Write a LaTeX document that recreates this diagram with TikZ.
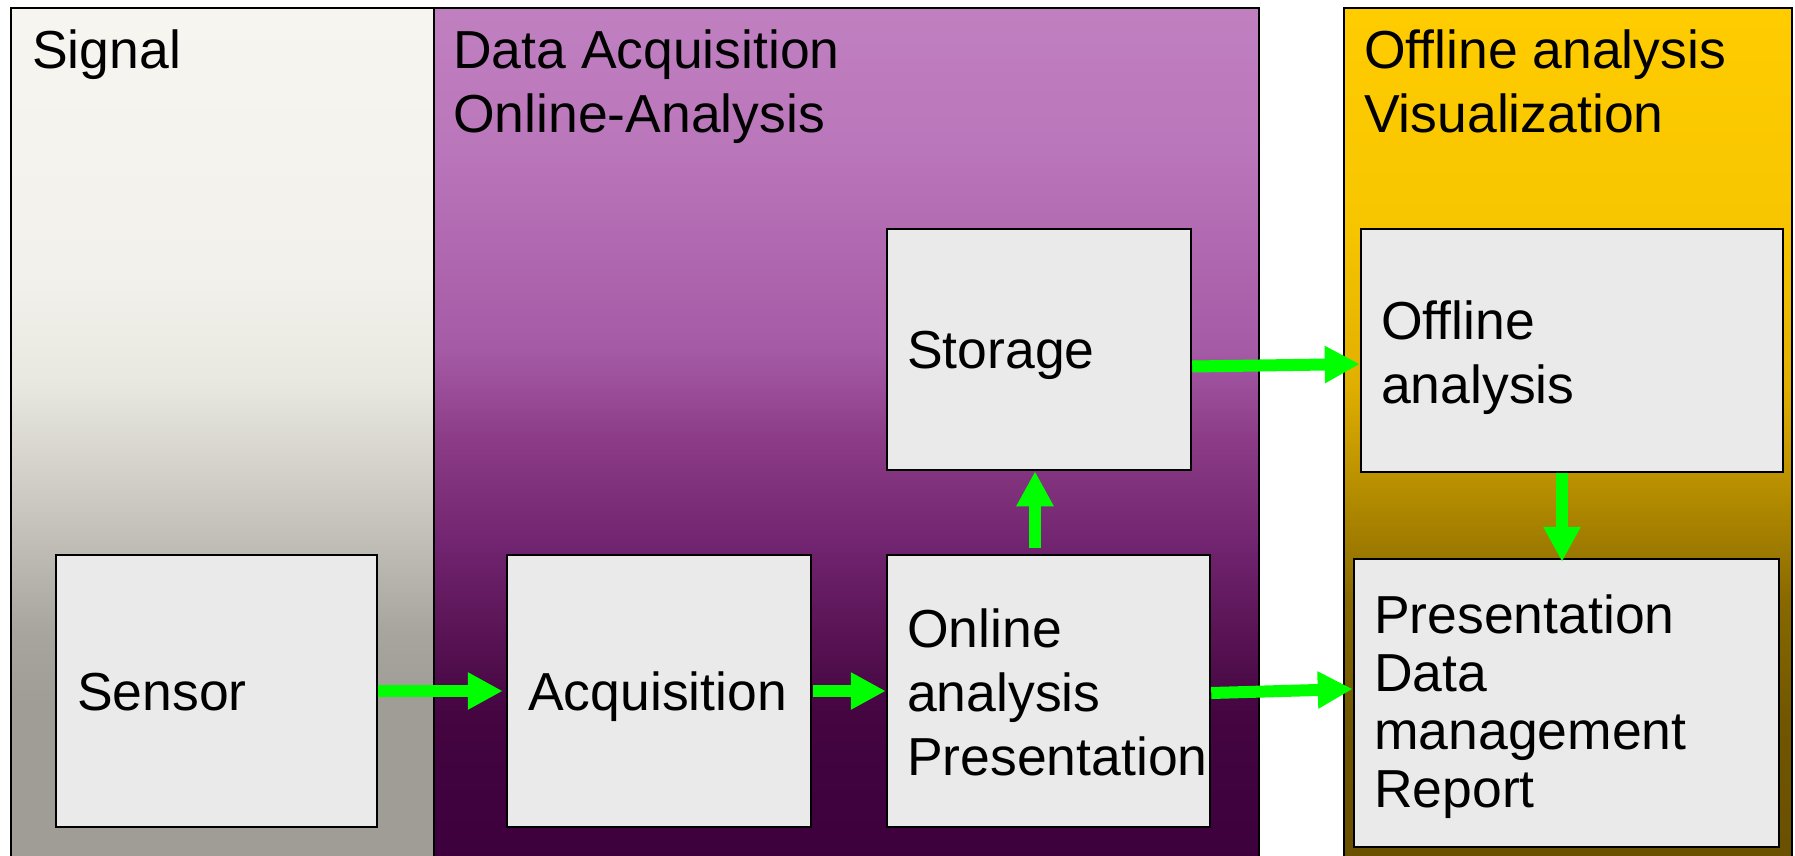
\documentclass[tikz,border=0pt]{standalone}
\usepackage{fontspec}
\setmainfont{Liberation Sans}
\usetikzlibrary{arrows.meta}

% colours of the stage boxes and the flow arrows
\definecolor{boxfill}{RGB}{234,234,234}
\definecolor{flowgreen}{RGB}{0,255,0}

% signal column: light top, grey bottom
\definecolor{sgA}{RGB}{246,245,240}
\definecolor{sgB}{RGB}{242,241,235}
\definecolor{sgC}{RGB}{232,231,224}
\definecolor{sgD}{RGB}{212,210,202}
\definecolor{sgE}{RGB}{190,188,180}
\definecolor{sgF}{RGB}{168,165,158}
\definecolor{sgG}{RGB}{160,157,150}
% acquisition column: violet
\definecolor{ppA}{RGB}{192,128,192}
\definecolor{ppB}{RGB}{186,118,186}
\definecolor{ppC}{RGB}{165,90,165}
\definecolor{ppD}{RGB}{140,60,135}
\definecolor{ppE}{RGB}{112,35,110}
\definecolor{ppF}{RGB}{90,20,85}
\definecolor{ppG}{RGB}{68,5,65}
\definecolor{ppH}{RGB}{60,0,60}
% offline column: gold
\definecolor{ylA}{RGB}{255,204,0}
\definecolor{ylB}{RGB}{248,198,0}
\definecolor{ylC}{RGB}{225,175,0}
\definecolor{ylD}{RGB}{180,140,0}
\definecolor{ylE}{RGB}{135,104,0}
\definecolor{ylF}{RGB}{112,86,0}
\definecolor{ylG}{RGB}{105,80,0}

% 25bp = bottom edge, 75bp = top edge of the shaded path
\pgfdeclareverticalshading{signalshade}{100bp}{color(0bp)=(sgG); color(25bp)=(sgG);
  color(34.5bp)=(sgG); color(38.7bp)=(sgF); color(43.5bp)=(sgE); color(48.3bp)=(sgD);
  color(53.1bp)=(sgC); color(59.5bp)=(sgB); color(75bp)=(sgA); color(100bp)=(sgA)}
\pgfdeclareverticalshading{acqshade}{100bp}{color(0bp)=(ppH); color(25bp)=(ppH);
  color(33.9bp)=(ppG); color(38.7bp)=(ppF); color(43.5bp)=(ppE); color(49.9bp)=(ppD);
  color(55bp)=(ppC); color(66.7bp)=(ppB); color(75bp)=(ppA); color(100bp)=(ppA)}
\pgfdeclareverticalshading{offshade}{100bp}{color(0bp)=(ylG); color(25bp)=(ylG);
  color(33.3bp)=(ylF); color(40.3bp)=(ylE); color(46.7bp)=(ylD); color(53.1bp)=(ylC);
  color(62.7bp)=(ylB); color(75bp)=(ylA); color(100bp)=(ylA)}

% left-aligned block whose base line is that of its first row
\newcommand\linesleft[1]{\begin{tabular}[t]{@{}l@{}}#1\end{tabular}}

\begin{document}
\begin{tikzpicture}[x=1pt,y=-1pt,
  panel/.style={draw=black, line width=2.5pt},
  stagebox/.style={draw=black, line width=2.5pt, fill=boxfill, inner sep=0pt},
  caption/.style={anchor=base west, inner sep=0pt, font=\fontsize{53.5}{64}\selectfont},
  flowarrow/.style={draw=flowgreen, line width=12pt, -{Triangle[length=35pt,width=35pt]}}]

\useasboundingbox (0,0) rectangle (1795,856);

% column backgrounds
\path[panel, shading=signalshade] (11,8) rectangle (434,866);
\path[panel, shading=acqshade] (434,8) rectangle (1259,866);
\path[panel, shading=offshade] (1344,8) rectangle (1792,866);

% column titles
\node[caption] (tsignal) at (32,69) {Signal};
\node[caption] (tacq) at (453,69) {\linesleft{Data Acquisition\\Online-Analysis}};
\node[caption] (toff) at (1364,69) {\linesleft{Offline analysis\\Visualization}};

% stages
\node[stagebox, minimum width=321pt, minimum height=272pt] (sensor) at (216.5,691) {};
\node[stagebox, minimum width=304pt, minimum height=272pt] (acq) at (659,691) {};
\node[stagebox, minimum width=323pt, minimum height=272pt] (online) at (1048.5,691) {};
\node[stagebox, minimum width=304pt, minimum height=241pt] (storage) at (1039,349.5) {};
\node[stagebox, minimum width=422pt, minimum height=243pt] (offline) at (1572,350.5) {};
\node[stagebox, minimum width=425pt, minimum height=288pt] (present) at (1566.5,703) {};

% stage texts
\node[caption] (lsensor) at (77,710) {Sensor};
\node[caption] (lacq) at (528,710) {Acquisition};
\node[caption] (lonline) at (907,647) {\linesleft{Online\\analysis\\Presentation}};
\node[caption] (lstorage) at (907,368) {Storage};
\node[caption] (loffline) at (1381,339) {\linesleft{Offline\\analysis}};
\node[caption, font=\fontsize{53.5}{58}\selectfont] (lpresent) at (1374,633)
  {\linesleft{Presentation\\Data\\management\\Report}};

% data flow
\draw[flowarrow] (sensor.east) -- ([xshift=-3pt]acq.west);
\draw[flowarrow] ([xshift=1pt]acq.east) -- (online.west);
\draw[flowarrow] ([xshift=-13.5pt,yshift=6pt]online.north) -- ([xshift=-4pt]storage.south);
\draw[flowarrow] ([yshift=-17pt]storage.east) -- ([yshift=-13.5pt]offline.west);
\draw[flowarrow] ([yshift=-2pt]online.east) -- ([yshift=14pt]present.west);
\draw[flowarrow] ([xshift=-10pt]offline.south) -- ([xshift=-4.5pt,yshift=-4pt]present.north);

\end{tikzpicture}
\end{document}
